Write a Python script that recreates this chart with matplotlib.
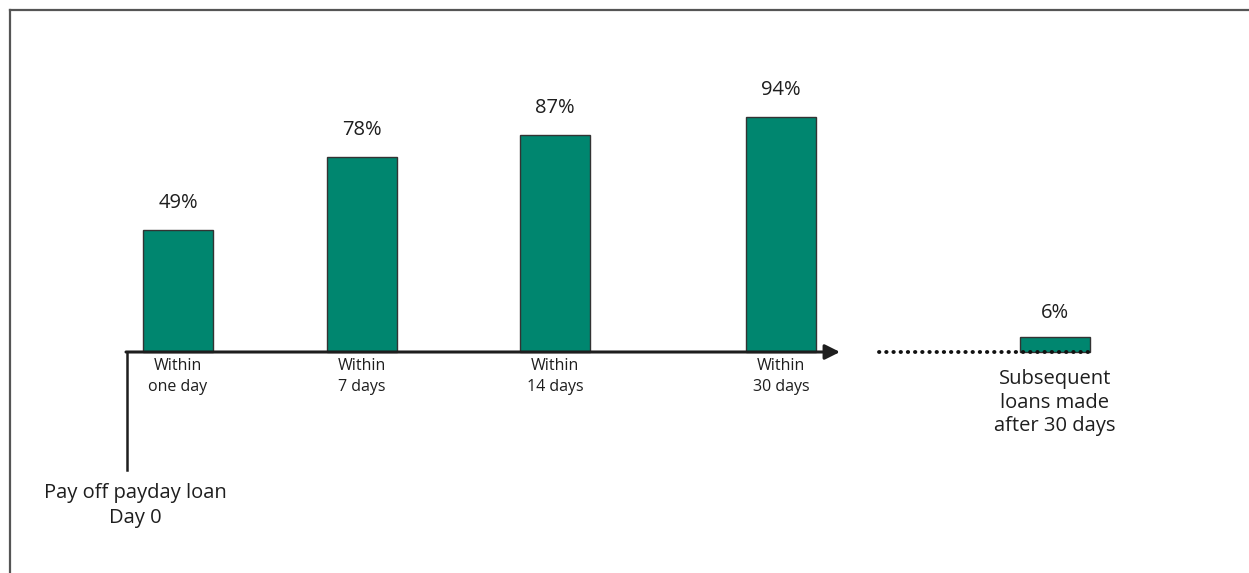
import matplotlib.pyplot as plt
from matplotlib.lines import Line2D

plt.rcParams['font.family'] = ['Open Sans', 'DejaVu Sans']

# data
categories = ['Within\none day', 'Within\n7 days', 'Within\n14 days', 'Within\n30 days']
shares = [49, 78, 87, 94]
later_label = 'Subsequent\nloans made\nafter 30 days'
later_share = 6
start_label = 'Pay off payday loan\nDay 0'

W, H = 1249, 573
fig = plt.figure(figsize=(W / 100, H / 100), dpi=100)
ax = fig.add_axes([0, 0, 1, 1])

# x in pixels, y in percent; 0% sits at pixel row 352
k = 2.5
base = 352
ax.set_xlim(0, W)
ax.set_ylim(-(H - base) / k, base / k)
ax.axis('off')

teal = '#00866f'
ink = '#1e1e1e'
xs = [178, 362, 555, 781]
ax.bar(xs, shares, width=70, color=teal, edgecolor='#333333', linewidth=1, zorder=2)
for x, v, c in zip(xs, shares, categories):
    ax.annotate(f'{v}%', (x, v), xytext=(0, 12), textcoords='offset points',
                ha='center', va='bottom', fontsize=14.5, color=ink)
    ax.text(x, -2.4, c, ha='center', va='top', fontsize=11.5, color=ink, linespacing=1.45)

# later bar beside the dotted line
xl = 1055
ax.bar([xl], [later_share], width=70, color=teal, edgecolor='#333333', linewidth=1, zorder=2)
ax.annotate(f'{later_share}%', (xl, later_share), xytext=(0, 10), textcoords='offset points',
            ha='center', va='bottom', fontsize=14.5, color=ink)
ax.text(xl, -6.8, later_label, ha='center', va='top', fontsize=14.5, color=ink, linespacing=1.25)

# timeline arrow and start marker
ax.annotate('', xy=(840, 0), xytext=(126, 0),
            arrowprops=dict(arrowstyle='-|>,head_length=0.9,head_width=0.45', color=ink, lw=2.2,
                            shrinkA=0, shrinkB=0), zorder=3)
ax.plot([127.5, 127.5], [0, -(470 - base) / k], color=ink, lw=1.8, zorder=3)
ax.plot([879, 1092], [0, 0], linestyle=(0, (0.1, 1.75)), dash_capstyle='round', color='#111111', lw=2.8, zorder=3)
ax.text(135, -(483 - base) / k, start_label, ha='center', va='top', fontsize=14.5, color=ink, linespacing=1.3)

# frame (top and left only)
fig.add_artist(Line2D([10 / W, 1], [1 - 10 / H, 1 - 10 / H], transform=fig.transFigure, color='#555555', lw=1.6))
fig.add_artist(Line2D([10 / W, 10 / W], [0, 1 - 10 / H], transform=fig.transFigure, color='#555555', lw=1.6))

fig.savefig('out.png', dpi=100)
